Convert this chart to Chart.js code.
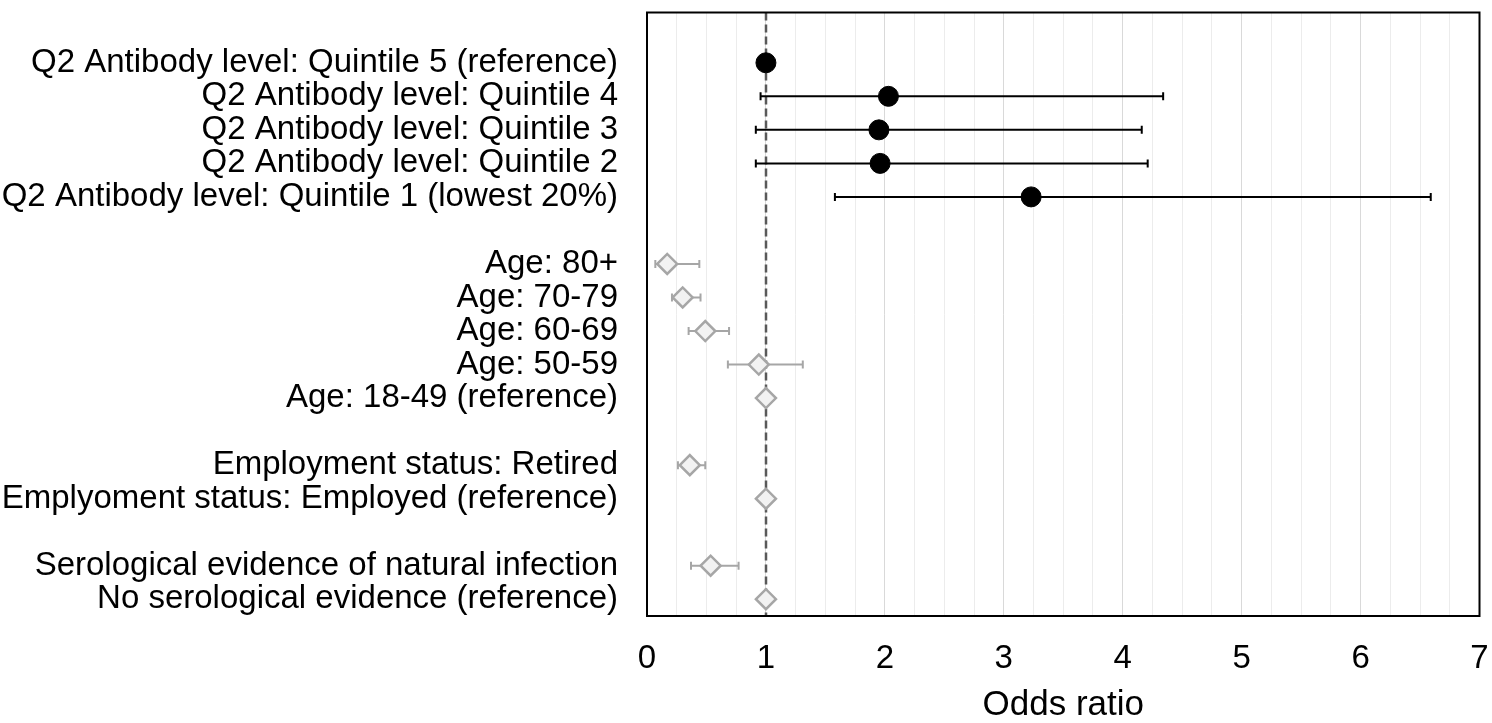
<!DOCTYPE html>
<html lang="en">
<head>
    <meta charset="UTF-8">
    <title>Odds ratio forest plot</title>
    <script src="https://cdn.jsdelivr.net/npm/chart.js"></script>
    <style>
        html, body { margin: 0; padding: 0; background: #fff; }
        .chart-box { width: 1492px; height: 723px; }
    </style>
</head>
<body>
    <div class="chart-box"><canvas id="forestChart"></canvas></div>
    <script>
        // rows from top to bottom ('' = spacer row)
        const categories = [
            'Q2 Antibody level: Quintile 5 (reference)',
            'Q2 Antibody level: Quintile 4',
            'Q2 Antibody level: Quintile 3',
            'Q2 Antibody level: Quintile 2',
            'Q2 Antibody level: Quintile 1 (lowest 20%)',
            '',
            'Age: 80+',
            'Age: 70-79',
            'Age: 60-69',
            'Age: 50-59',
            'Age: 18-49 (reference)',
            '',
            'Employment status: Retired',
            'Emplyoment status: Employed (reference)',
            '',
            'Serological evidence of natural infection',
            'No serological evidence (reference)'
        ];
        const oddsRatio = [1, 2.03, 1.95, 1.96, 3.23, null, 0.17, 0.30, 0.49, 0.94, 1, null, 0.36, 1, null, 0.535, 1];
        const ciLower   = [null, 0.955, 0.915, 0.915, 1.58, null, 0.07, 0.21, 0.35, 0.68, null, null, 0.26, null, null, 0.37, null];
        const ciUpper   = [null, 4.34, 4.16, 4.21, 6.59, null, 0.44, 0.45, 0.69, 1.31, null, null, 0.49, null, null, 0.77, null];
        const antibodyRows = 5;
        const xTicks = [0, 1, 2, 3, 4, 5, 6, 7];

        function rowsFor(from, to) {
            const out = [];
            for (let i = from; i < to; i++) {
                if (oddsRatio[i] === null) continue;
                out.push({ x: oddsRatio[i], y: i, lo: ciLower[i], hi: ciUpper[i] });
            }
            return out;
        }

        // tick padding would otherwise leak into the chart area margins
        function noEdgePadding(scale) {
            scale.paddingTop = 0;
            scale.paddingBottom = 0;
            scale.paddingLeft = 0;
            scale.paddingRight = 0;
        }

        // error bars + reference line, drawn under the markers
        const forestPlugin = {
            id: 'forest',
            beforeDatasetsDraw(chart) {
                const ctx = chart.ctx;
                const xs = chart.scales.x, ys = chart.scales.y;
                const area = chart.chartArea;

                ctx.save();
                ctx.strokeStyle = '#595959';
                ctx.lineWidth = 2.5;
                ctx.setLineDash([8, 4]);
                const x1 = Math.round(xs.getPixelForValue(1));
                ctx.beginPath();
                ctx.moveTo(x1, area.top);
                ctx.lineTo(x1, area.bottom);
                ctx.stroke();
                ctx.setLineDash([]);

                chart.data.datasets.forEach(ds => {
                    ctx.strokeStyle = ds.barColor;
                    ctx.lineWidth = 2;
                    ds.data.forEach(p => {
                        if (p.lo == null || p.hi == null) return;
                        const y = ys.getPixelForValue(p.y);
                        const a = xs.getPixelForValue(p.lo);
                        const b = xs.getPixelForValue(p.hi);
                        ctx.beginPath();
                        ctx.moveTo(a, y); ctx.lineTo(b, y);
                        ctx.moveTo(a, y - 4); ctx.lineTo(a, y + 4);
                        ctx.moveTo(b, y - 4); ctx.lineTo(b, y + 4);
                        ctx.stroke();
                    });
                });
                ctx.restore();
            },
            afterDraw(chart) {
                const ctx = chart.ctx;
                const a = chart.chartArea;
                ctx.save();
                ctx.strokeStyle = '#000';
                ctx.lineWidth = 2;
                ctx.strokeRect(a.left, a.top, a.right - a.left, a.bottom - a.top);
                ctx.restore();
            }
        };

        new Chart(document.getElementById('forestChart'), {
            type: 'scatter',
            data: {
                datasets: [{
                    data: rowsFor(0, antibodyRows),
                    pointStyle: 'circle',
                    pointRadius: 10,
                    backgroundColor: '#000',
                    borderColor: '#000',
                    borderWidth: 1,
                    barColor: '#000'
                }, {
                    data: rowsFor(antibodyRows, categories.length),
                    pointStyle: 'rectRot',
                    pointRadius: 10,
                    backgroundColor: '#f2f2f2',
                    borderColor: '#a6a6a6',
                    borderWidth: 2.5,
                    barColor: '#a6a6a6'
                }]
            },
            options: {
                responsive: true,
                maintainAspectRatio: false,
                animation: false,
                layout: { padding: { top: 10, right: 11, left: 0, bottom: 0 } },
                plugins: { legend: { display: false }, tooltip: { enabled: false } },
                scales: {
                    x: {
                        type: 'linear',
                        min: 0,
                        max: 7,
                        border: { display: false },
                        grid: {
                            drawTicks: false,
                            lineWidth: 1,
                            color: c => Number.isInteger(c.tick.value) ? '#d9d9d9' : '#ececec'
                        },
                        ticks: {
                            stepSize: 0.25,
                            autoSkip: false,
                            maxRotation: 0,
                            padding: 26,
                            color: '#000',
                            font: { family: 'Liberation Sans, Arial', size: 33, lineHeight: 1 },
                            callback: v => xTicks.includes(v) ? String(v) : ''
                        },
                        title: {
                            display: true,
                            text: 'Odds ratio',
                            color: '#000',
                            padding: 0,
                            font: { family: 'Liberation Sans, Arial', size: 35, lineHeight: 1 }
                        },
                        afterFit(scale) {
                            scale.height = 107;
                            noEdgePadding(scale);
                        }
                    },
                    y: {
                        type: 'linear',
                        min: -1.5,
                        max: 16.5,
                        reverse: true,
                        border: { display: false },
                        grid: { display: false, drawTicks: false },
                        afterBuildTicks(scale) {
                            scale.ticks = categories.map((_, i) => ({ value: i }));
                        },
                        ticks: {
                            autoSkip: false,
                            padding: 29,
                            color: '#000',
                            font: { family: 'Liberation Sans, Arial', size: 33, lineHeight: 1 },
                            callback: v => categories[v] ?? ''
                        },
                        afterFit(scale) {
                            scale.width = 647;
                            noEdgePadding(scale);
                        }
                    }
                }
            },
            plugins: [forestPlugin]
        });
    </script>
</body>
</html>
